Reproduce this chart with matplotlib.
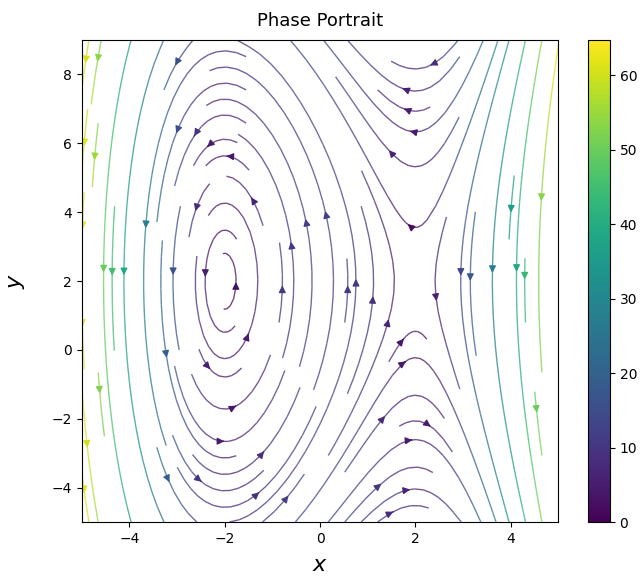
#Phase portrait of a planar system with a centre at (-2,2) and a saddle at (2,2)
import numpy as np
import matplotlib.pyplot as plt
from matplotlib import colors, cm

#System parameters
x_range = [-5, 5]
y_range = [-5, 9]
y_eq = 2.      # both equilibria sit on y=2
x_eq = 2.      # equilibria at x=-2 and x=+2
gain = 3.      # scale of the y equation
x_ticks = [-4, -2, 0, 2, 4]
y_ticks = [-4, -2, 0, 2, 4, 6, 8]
cbar_ticks = [0, 10, 20, 30, 40, 50, 60]
cbar_max = 64.7

#Vector field
x = np.linspace(x_range[0], x_range[1], 200)
y = np.linspace(y_range[0], y_range[1], 200)
X, Y = np.meshgrid(x, y)
U = y_eq - Y
V = gain*(x_eq**2 - X**2)
speed = np.sqrt(U**2 + V**2)

norm = colors.Normalize(0, cbar_max)
fig = plt.figure(figsize=(6.44, 5.8))
ax = fig.add_axes([0.127, 0.100, 0.740, 0.831])
cax = fig.add_axes([0.913, 0.100, 0.034, 0.831])
strm = ax.streamplot(X, Y, U, V, color=speed, cmap='viridis', norm=norm,
                     density=1, linewidth=1.0)
strm.lines.set_alpha(0.75)
strm.arrows.set_alpha(0.75)
cb = fig.colorbar(cm.ScalarMappable(norm=norm, cmap='viridis'), cax=cax)
cb.set_ticks(cbar_ticks)
ax.set_xlim(x_range)
ax.set_ylim(y_range)
ax.set_xticks(x_ticks)
ax.set_yticks(y_ticks)
ax.set_title("Phase Portrait", fontsize=13, pad=10)
ax.set_xlabel("$x$", fontsize=16, labelpad=7)
ax.set_ylabel("$y$", fontsize=16, labelpad=18)
fig.savefig("out.png", dpi=100)
